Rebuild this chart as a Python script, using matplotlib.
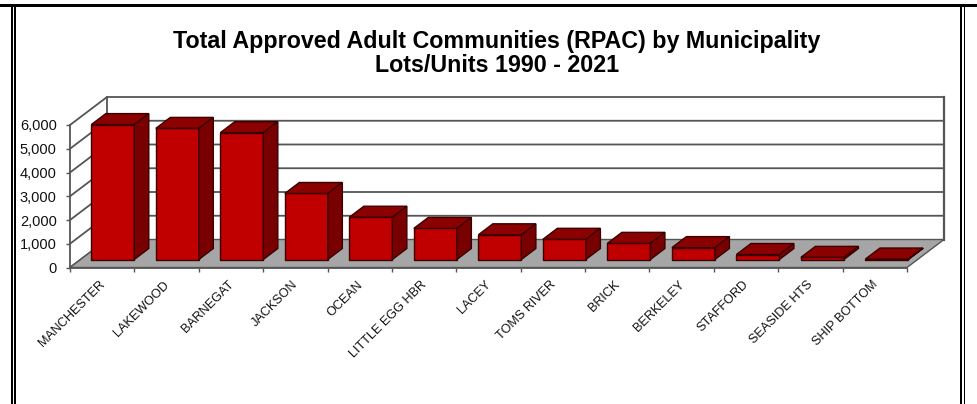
import matplotlib
matplotlib.use('Agg')
import matplotlib.pyplot as plt
from matplotlib.patches import Polygon, Rectangle
from matplotlib.transforms import ScaledTranslation
import numpy as np

plt.rcParams['font.family'] = ['Liberation Sans', 'DejaVu Sans']

towns = ["MANCHESTER", "LAKEWOOD", "BARNEGAT", "JACKSON", "OCEAN", "LITTLE EGG HBR", "LACEY",
         "TOMS RIVER", "BRICK", "BERKELEY", "STAFFORD", "SEASIDE HTS", "SHIP BOTTOM"]
lots = [5680, 5520, 5340, 2780, 1780, 1310, 1040, 850, 680, 500, 210, 90, 20]
y_ticks = [0, 1000, 2000, 3000, 4000, 5000, 6000]

W, H = 977, 404
fig = plt.figure(figsize=(W / 100, H / 100), dpi=100)
ax = fig.add_axes([70 / W, (H - 267.5) / H, 837 / W, 142.5 / H])
ax.set_xlim(0, len(towns))
ax.set_ylim(0, 6000)

# oblique depth of the floor, in data units
depth_x = 37 / (837 / len(towns))
depth_y = 28 / (142.5 / 6000)
bar_w = 0.668
bar_step = 1.002
bar_near = 8 / 28
bar_far = 19 / 28
grid_col = '#555555'


def pt(x, y, d):
    # project a point at depth d (0 front, 1 back wall)
    return (x + d * depth_x, y + d * depth_y)


def face(pts, **kw):
    ax.add_patch(Polygon(pts, closed=True, clip_on=False, **kw))


n = len(towns)
face([pt(0, 0, 1), pt(n, 0, 1), pt(n, 6000, 1), pt(0, 6000, 1)], fc='white', ec='none', zorder=1)
face([pt(0, 0, 0), pt(n, 0, 0), pt(n, 0, 1), pt(0, 0, 1)], fc='#a6a6a6', ec=grid_col, lw=1.0, zorder=2)

for v in y_ticks[1:]:
    ax.plot(*zip(pt(0, v, 0), pt(0, v, 1), pt(n, v, 1)), color=grid_col, lw=1.3, zorder=1.5, clip_on=False)
ax.plot(*zip(pt(0, 0, 0), pt(0, 0, 1), pt(0, 6000, 1)), color=grid_col, lw=1.3, zorder=1.5, clip_on=False)
ax.plot(*zip(pt(n, 0, 1), pt(n, 6000, 1)), color=grid_col, lw=1.6, zorder=1.5, clip_on=False)

edge = '#3a0000'
for i, v in enumerate(lots):
    x0 = i * bar_step + 0.5 - bar_w / 2
    x1 = x0 + bar_w
    face([pt(x0, 0, bar_near), pt(x1, 0, bar_near), pt(x1, v, bar_near), pt(x0, v, bar_near)],
         fc='#c00000', ec=edge, lw=1.0, zorder=3)
    face([pt(x0, v, bar_near), pt(x1, v, bar_near), pt(x1, v, bar_far), pt(x0, v, bar_far)],
         fc='#8b0000', ec=edge, lw=1.0, zorder=3)
    face([pt(x1, 0, bar_near), pt(x1, 0, bar_far), pt(x1, v, bar_far), pt(x1, v, bar_near)],
         fc='#780000', ec=edge, lw=1.0, zorder=3)

for s in ['top', 'right']:
    ax.spines[s].set_visible(False)
for s in ['left', 'bottom']:
    ax.spines[s].set_color(grid_col)
    ax.spines[s].set_linewidth(1.3)
    ax.spines[s].set_zorder(2.5)

ax.set_yticks(y_ticks)
ax.set_yticklabels([f"{v:,}" for v in y_ticks], fontsize=10.5, color='#111111')
ax.tick_params(axis='y', length=3, width=1, color=grid_col, pad=6.5)
ax.set_xticks(np.arange(n + 1))
ax.set_xticklabels([])
ax.tick_params(axis='x', which='major', length=3, width=1, color=grid_col)
ax.set_xticks(np.arange(n) + 0.5, minor=True)
ax.set_xticklabels(towns, minor=True, rotation=45, ha='right', va='top', rotation_mode='anchor',
                   fontsize=9.1, color='#111111')
ax.tick_params(axis='x', which='minor', length=0, pad=8)
# labels sit a little left of the category centre
shift = ScaledTranslation(-3.5 / 100, 0, fig.dpi_scale_trans)
for lab in ax.get_xticklabels(minor=True):
    lab.set_transform(lab.get_transform() + shift)

fig.text(497 / W, 1 - 41.5 / H, "Total Approved Adult Communities (RPAC) by Municipality",
         ha='center', va='center', fontsize=16.75, fontweight='bold')
fig.text(497 / W, 1 - 66 / H, "Lots/Units 1990 - 2021",
         ha='center', va='center', fontsize=16.75, fontweight='bold')

# page border around the chart
for x, y, w, h in [(0, 4, W, 3.3), (11, 6, 1.5, H), (14, 6, 2, H), (959.5, 6, 2.5, H), (963.5, 6, 1.6, H)]:
    fig.add_artist(Rectangle((x / W, 1 - (y + h) / H), w / W, h / H, transform=fig.transFigure,
                             fc='black', ec='none'))

fig.savefig('out.png', dpi=100)
